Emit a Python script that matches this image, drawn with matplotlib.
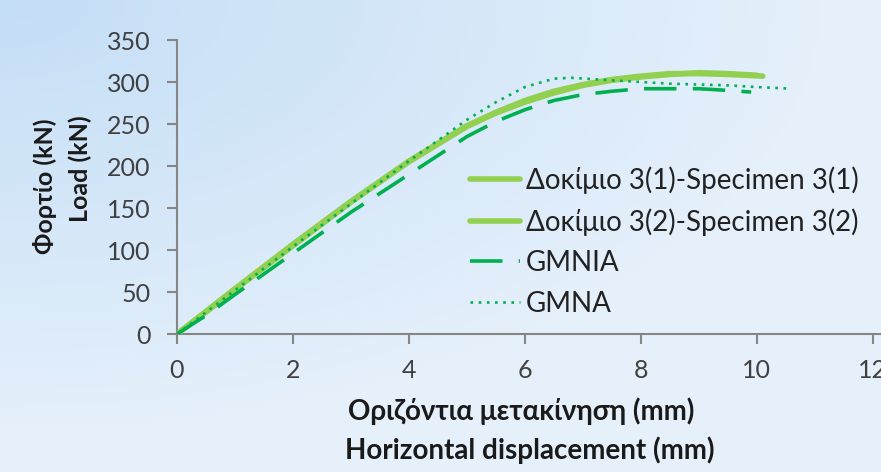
import numpy as np
import matplotlib
matplotlib.use("Agg")
import matplotlib.pyplot as plt

plt.rcParams['font.family'] = ['Lato', 'Noto Sans', 'DejaVu Sans']

# ----------------------------------
# DATA
# ----------------------------------
disp_s1 = [0, 0.5, 1, 2, 3, 4, 5, 5.5, 6, 6.5, 7, 7.5, 8, 8.5, 9, 9.5, 10.1]
load_s1 = [0, 27, 54, 107, 158, 206, 248, 264, 278, 289, 297, 303, 307, 310, 310, 309, 307]

disp_s2 = [0, 0.5, 1, 2, 3, 4, 5, 5.5, 6, 6.5, 7, 7.5, 8, 8.5, 9, 9.5, 10.0]
load_s2 = [0, 26, 53, 105, 157, 205, 247, 263, 276, 287, 296, 302, 306, 309, 311, 310, 308]

disp_gmnia = [0, 0.5, 1, 2, 3, 4, 5, 5.5, 6, 6.5, 7, 7.5, 8, 8.5, 9, 9.5, 9.9]
load_gmnia = [0, 22, 47, 96, 145, 190, 235, 253, 267, 278, 285, 289, 292, 292, 292, 290, 288]

disp_gmna = [0, 1, 2, 3, 4, 5, 5.5, 6, 6.5, 6.8, 7.5, 8, 8.5, 9, 9.5, 10, 10.6]
load_gmna = [0, 52, 104, 155, 206, 255, 276, 294, 304, 305, 302, 300, 298, 297, 296, 294, 292]

x_ticks = [0, 2, 4, 6, 8, 10, 12]
y_ticks = [0, 50, 100, 150, 200, 250, 300, 350]

COLOR_LIGHT = "#92D050"
COLOR_DARK = "#00B050"
AXIS_GREY = "#868686"
TEXT_GREY = "#404040"

fig = plt.figure(figsize=(8.81, 4.72), dpi=100)

# background gradient (light blue, darker at top-left)
bg = fig.add_axes([0, 0, 1, 1], zorder=-10)
W, H = 881, 472
xx, yy = np.meshgrid(np.arange(W), np.arange(H))
t = np.clip(np.sqrt((xx / 820.0) ** 2 + (yy / 430.0) ** 2), 0, 1)
c0 = np.array([0xC4, 0xDE, 0xF6]) / 255.0
c1 = np.array([0xE5, 0xF0, 0xFB]) / 255.0
img = c0[None, None, :] * (1 - t[..., None]) + c1[None, None, :] * t[..., None]
bg.imshow(img, aspect="auto", extent=[0, 1, 0, 1], origin="upper")
bg.axis("off")

ax = fig.add_axes([177 / W, 1 - 334 / H, 1 - 177 / W, (334 - 40) / H])
ax.patch.set_alpha(0)

ax.plot(disp_s1, load_s1, color=COLOR_LIGHT, lw=4, solid_capstyle="round",
        label="Δοκίμιο 3(1)-Specimen 3(1)", zorder=3)
ax.plot(disp_s2, load_s2, color=COLOR_LIGHT, lw=4, solid_capstyle="round",
        label="Δοκίμιο 3(2)-Specimen 3(2)", zorder=3)
ax.plot(disp_gmnia, load_gmnia, color=COLOR_DARK, lw=2.6, dashes=(9, 4.5),
        label="GMNIA", zorder=4)
ax.plot(disp_gmna, load_gmna, color=COLOR_DARK, lw=1.9, linestyle=(0, (1, 2.1)),
        label="GMNA", zorder=4)

ax.set_xlim(0, 12.14)
ax.set_ylim(0, 350)
ax.set_xticks(x_ticks)
ax.set_yticks(y_ticks)

for s in ["top", "right"]:
    ax.spines[s].set_visible(False)
for s in ["left", "bottom"]:
    ax.spines[s].set_color(AXIS_GREY)
    ax.spines[s].set_linewidth(1.5)
ax.tick_params(axis="both", colors=AXIS_GREY, width=1.5, length=7,
               labelsize=18, labelcolor=TEXT_GREY)
ax.tick_params(axis="x", pad=11)
ax.tick_params(axis="y", pad=12)

# axis titles (two-line, Greek / English)
fig.text(521 / W, 1 - 411 / H, "Οριζόντια μετακίνηση (mm)", ha="center", va="center",
         fontsize=20, fontweight="bold", color="#1a1a1a")
fig.text(530 / W, 1 - 450 / H, "Horizontal displacement (mm)", ha="center", va="center",
         fontsize=20, fontweight="bold", color="#1a1a1a")
fig.text(45 / W, 1 - 186 / H, "Φορτίο (kN)", ha="center", va="center", rotation=90,
         fontsize=18, fontweight="bold", color="#1a1a1a")
fig.text(80 / W, 1 - 169 / H, "Load (kN)", ha="center", va="center", rotation=90,
         fontsize=18, fontweight="bold", color="#1a1a1a")

leg = ax.legend(loc="upper left", bbox_to_anchor=(470 / W, 1 - 166 / H),
                bbox_transform=fig.transFigure, frameon=False, fontsize=20,
                handlelength=1.8, handletextpad=0.2, labelspacing=0.52,
                borderaxespad=0, borderpad=0)
for txt in leg.get_texts():
    txt.set_color("#222222")

fig.savefig("out.png", dpi=100)
